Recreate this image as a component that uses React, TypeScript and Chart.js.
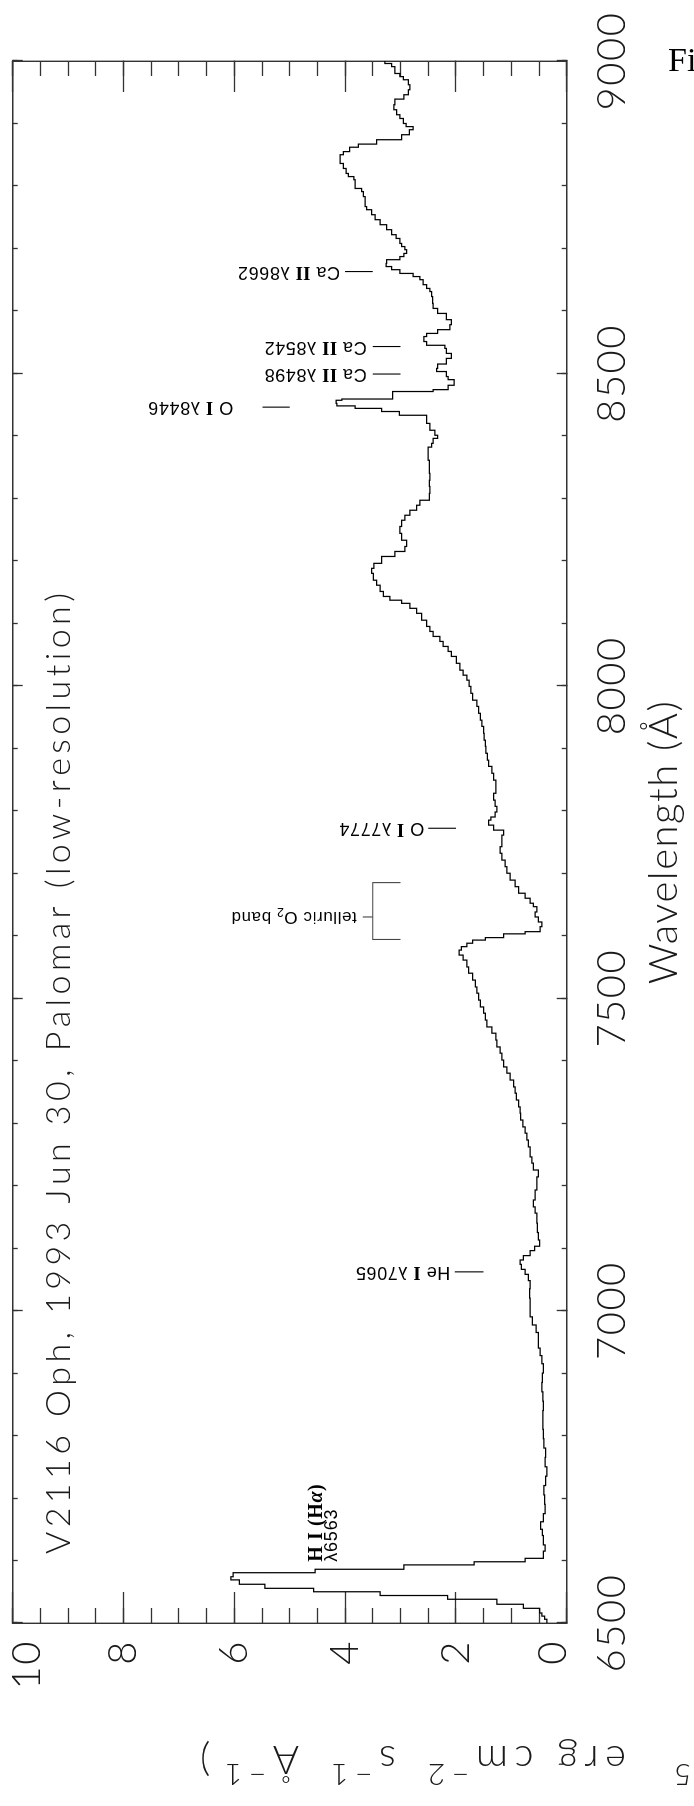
import React, { useEffect, useRef } from "react";
import { Chart, registerables } from "chart.js";

Chart.register(...registerables);

// ---------- spectrum (bin start wavelength in Å, flux in 1e-15 erg cm^-2 s^-1 Å^-1) ----------
const halphaWavelengths = [6500, 6506, 6511, 6516, 6523.5, 6530, 6538, 6544, 6550, 6555.5, 6562, 6569, 6574, 6580.5, 6586, 6593, 6598, 6603.5];
const halphaFluxes = [0.36, 0.40, 0.45, 0.49, 0.78, 1.26, 2.15, 3.37, 4.57, 5.45, 5.91, 6.06, 6.02, 4.54, 2.94, 1.67, 0.75, 0.42];

const redContWavelengths = [6615, 6625, 6640, 6650, 6662, 6675, 6690, 6705, 6720, 6735, 6750, 6765, 6780, 6795, 6810, 6825, 6840, 6855, 6870, 6885, 6900, 6915, 6928, 6940, 6953, 6965, 6977, 6990, 7005, 7020, 7035, 7048, 7058, 7066, 7074, 7081, 7088, 7096, 7103];
const redContFluxes = [0.39, 0.42, 0.44, 0.47, 0.42, 0.39, 0.40, 0.41, 0.38, 0.36, 0.39, 0.38, 0.41, 0.42, 0.43, 0.43, 0.42, 0.43, 0.45, 0.44, 0.42, 0.45, 0.48, 0.51, 0.51, 0.55, 0.62, 0.66, 0.66, 0.67, 0.66, 0.69, 0.75, 0.82, 0.84, 0.78, 0.66, 0.58, 0.49];

const oxygenBandWavelengths = [7113, 7125, 7140, 7156, 7166, 7177, 7193, 7214, 7225, 7236, 7246, 7262, 7273, 7284, 7294, 7305, 7316, 7326, 7337, 7348, 7358, 7369, 7380, 7390, 7401, 7412, 7422, 7433, 7444, 7454, 7465, 7476, 7486, 7497, 7508, 7518, 7529, 7540, 7550, 7561, 7569, 7577, 7582.5, 7588, 7593, 7597, 7603, 7606.5, 7614.5, 7622, 7630, 7638, 7646.5, 7652, 7660, 7668, 7678.5, 7689, 7700, 7710.5, 7721, 7732, 7742.5];
const oxygenBandFluxes = [0.51, 0.53, 0.54, 0.57, 0.60, 0.57, 0.54, 0.51, 0.60, 0.63, 0.66, 0.69, 0.72, 0.75, 0.79, 0.83, 0.84, 0.87, 0.91, 0.93, 0.96, 1.02, 1.08, 1.14, 1.17, 1.20, 1.26, 1.28, 1.35, 1.44, 1.47, 1.50, 1.56, 1.59, 1.62, 1.65, 1.70, 1.77, 1.80, 1.87, 1.94, 1.90, 1.80, 1.70, 1.47, 1.14, 0.75, 0.48, 0.45, 0.51, 0.57, 0.54, 0.60, 0.66, 0.75, 0.87, 0.93, 1.02, 1.08, 1.11, 1.17, 1.20, 1.17];

const nearIrWavelengths = [7753, 7761, 7769, 7777, 7785, 7790, 7798, 7807, 7817, 7828, 7839, 7849, 7860, 7871, 7881, 7892, 7903, 7913, 7924, 7935, 7945, 7956, 7967, 7977, 7988, 7999, 8009, 8017, 8025, 8036, 8047, 8055, 8063, 8071, 8079, 8087, 8095, 8105, 8116, 8124, 8132, 8137, 8143, 8151, 8161, 8169, 8180, 8188, 8196, 8207, 8215, 8223, 8233, 8244, 8255, 8265, 8273, 8281, 8289, 8297, 8308, 8319, 8329, 8340, 8351, 8361, 8372, 8382];
const nearIrFluxes = [1.17, 1.14, 1.32, 1.41, 1.37, 1.29, 1.26, 1.29, 1.32, 1.28, 1.28, 1.32, 1.35, 1.41, 1.43, 1.46, 1.47, 1.49, 1.50, 1.53, 1.56, 1.59, 1.62, 1.70, 1.73, 1.76, 1.80, 1.87, 1.93, 1.99, 2.08, 2.14, 2.23, 2.29, 2.41, 2.47, 2.53, 2.62, 2.71, 2.83, 2.98, 3.19, 3.31, 3.37, 3.43, 3.49, 3.52, 3.48, 3.34, 3.10, 2.92, 2.89, 2.98, 3.01, 2.98, 2.92, 2.83, 2.71, 2.65, 2.48, 2.47, 2.48, 2.47, 2.48, 2.48, 2.50, 2.50, 2.44];

const calciumWavelengths = [8388, 8396, 8401, 8409, 8420, 8433, 8439, 8444, 8448, 8452, 8457, 8459, 8471, 8474, 8481, 8490, 8495, 8503, 8508, 8515, 8524, 8532, 8540, 8545, 8551, 8559, 8564, 8570, 8578, 8586, 8596, 8604, 8612, 8623, 8631, 8636, 8642, 8650, 8655, 8660, 8666, 8671, 8676, 8682, 8687, 8692, 8698, 8703, 8708, 8716, 8722, 8730, 8738, 8746, 8754, 8762, 8767, 8783, 8791, 8796, 8810, 8815, 8820, 8828, 8836, 8844, 8850, 8855, 8862, 8867, 8874, 8882, 8890, 8895, 8900, 8908, 8914, 8922, 8930, 8939, 8946, 8954, 8962, 8970, 8975, 8980, 8991, 8996, 9000];
const calciumFluxes = [2.41, 2.33, 2.38, 2.47, 2.53, 3.02, 3.34, 3.82, 4.15, 4.16, 4.06, 3.14, 2.41, 2.14, 2.03, 2.14, 2.17, 2.35, 2.33, 2.17, 2.08, 2.17, 2.20, 2.53, 2.58, 2.53, 2.33, 2.11, 2.08, 2.17, 2.33, 2.41, 2.42, 2.44, 2.47, 2.53, 2.59, 2.65, 2.77, 3.01, 3.16, 3.26, 3.25, 3.01, 2.94, 2.89, 2.92, 2.98, 3.01, 3.08, 3.16, 3.25, 3.37, 3.46, 3.52, 3.61, 3.64, 3.67, 3.70, 3.82, 3.84, 3.94, 3.98, 4.03, 4.09, 4.09, 4.03, 3.92, 3.76, 3.43, 2.98, 2.84, 2.77, 2.90, 2.95, 3.01, 3.07, 3.12, 3.10, 2.94, 2.86, 2.83, 2.86, 2.95, 3.01, 3.10, 3.16, 3.28, 3.28];

// ---------- axes ----------
const wavelengthRange = [6500, 9000];
const fluxRange = [0, 10];
const wavelengthMajorTicks = [6500, 7000, 7500, 8000, 8500, 9000];
const wavelengthMinorStep = 100;
const fluxMajorTicks = [0, 2, 4, 6, 8, 10];
const fluxMinorStep = 0.5;

// ---------- texts ----------
const plotTitle = "V2116 Oph, 1993 Jun 30, Palomar (low-resolution)";
const xAxisTitle = "Wavelength (Å)";
const yAxisTitleParts = ["Flux (10", "−15", " erg cm", "−2", " s", "−1", " Å", "−1", ")"];
const yAxisTitleSuperscript = [false, true, false, true, false, true, false, true, false];

// ---------- line identifications ----------
const lineLabels = ["He I λ7065", "O I λ7774", "O I λ8446", "Ca II λ8498", "Ca II λ8542", "Ca II λ8662"];
const lineWavelengths = [7062, 7772, 8446, 8499, 8543, 8663];
const lineMarkFrom = [1.5, 2.0, 5.0, 3.0, 3.0, 3.5];
const lineMarkTo = [2.02, 2.5, 5.49, 3.5, 3.5, 4.0];
const lineLabelStart = [2.1, 2.57, 6.02, 3.61, 3.61, 4.09];

const halphaLabel = ["H I (H", "α", ")"];
const halphaWavelengthLabel = "λ6563";
const halphaAnchor = [6598, 4.42];

const telluricLabel = ["telluric O", "2", " band"];
const telluricRange = [7594, 7685];
const telluricLevels = [3.0, 3.5, 3.68];
const telluricTick = 7630;

// ---------- styling ----------
const W = 1806;
const H = 694;
const LIGHT = "Lato, 'Open Sans', 'DejaVu Sans', sans-serif";
const SANS = "'Liberation Sans', Arial, sans-serif";
const SERIF = "'Liberation Serif', 'Times New Roman', serif";
const FRAME = "#333";
const TEXT = "#1a1a1a";

type Seg = { t: string; font: string; dy?: number; gap?: number };

function runWidth(ctx: CanvasRenderingContext2D, segs: Seg[], ls: number) {
  let w = 0;
  for (const s of segs) {
    ctx.font = s.font;
    for (const ch of Array.from(s.t)) w += ctx.measureText(ch).width + ls;
    w += s.gap || 0;
  }
  return w;
}
function charCount(segs: Seg[]) {
  return segs.reduce((n, s) => n + Array.from(s.t).length, 0);
}
function drawRun(ctx: CanvasRenderingContext2D, segs: Seg[], x0: number, y0: number, ls: number) {
  let x = x0;
  for (const s of segs) {
    ctx.font = s.font;
    for (const ch of Array.from(s.t)) {
      ctx.fillText(ch, x, y0 + (s.dy || 0));
      x += ctx.measureText(ch).width + ls;
    }
    x += s.gap || 0;
  }
  return x;
}
function labelSegs(text: string, size: number): Seg[] {
  return text
    .split(/(\bI+\b)/)
    .filter((p) => p.length > 0)
    .map((p) => (/^I+$/.test(p) ? { t: p, font: `bold ${size}px ${SERIF}` } : { t: p, font: `${size}px ${SANS}` }));
}

function zeroPad(s: any) {
  s.paddingLeft = 0;
  s.paddingRight = 0;
  s.paddingTop = 0;
  s.paddingBottom = 0;
}

function rangeTicks(min: number, max: number, step: number) {
  const out: { value: number }[] = [];
  const n = Math.round((max - min) / step);
  for (let i = 0; i <= n; i++) out.push({ value: +(min + i * step).toFixed(6) });
  return out;
}

const textPlugin = {
  id: "spectrumText",
  beforeDraw(chart: any) {
    chart.ctx.letterSpacing = "1.5px";
  },
  beforeDatasetsDraw(chart: any) {
    chart.ctx.letterSpacing = "0px";
  },
  afterDraw(chart: any) {
    const ctx: CanvasRenderingContext2D = chart.ctx;
    const xs = chart.scales.x;
    const ys = chart.scales.y;
    const area = chart.chartArea;
    ctx.save();
    (ctx as any).letterSpacing = "0px";
    ctx.fillStyle = TEXT;
    ctx.textAlign = "left";

    // plot title inside the frame
    ctx.textBaseline = "alphabetic";
    const tSegs: Seg[] = [{ t: plotTitle, font: `300 34px ${LIGHT}` }];
    const tNat = runWidth(ctx, tSegs, 0);
    const tLs = (961 - tNat) / (charCount(tSegs) - 1);
    drawRun(ctx, tSegs, area.left + 69, area.top + 57, tLs);

    // y-axis title (rotated, partly outside the page)
    const ySegs: Seg[] = yAxisTitleParts.map((t, i) =>
      yAxisTitleSuperscript[i]
        ? { t, font: `300 30px ${LIGHT}`, dy: -18, gap: i === 1 ? 24 : 8 }
        : { t, font: `300 40px ${LIGHT}` }
    );
    const tail = ySegs.slice(2);
    const yLs = (450 - runWidth(ctx, tail, 0)) / charCount(tail);
    const yW = runWidth(ctx, ySegs, yLs) - yLs;
    ctx.save();
    ctx.translate(60, 200);
    ctx.rotate(-Math.PI / 2);
    drawRun(ctx, ySegs, -yW, 0, yLs);
    ctx.restore();

    // line identification labels
    ctx.fillStyle = "#000";
    ctx.textBaseline = "middle";
    lineLabels.forEach((label, i) => {
      const px = xs.getPixelForValue(lineWavelengths[i]);
      const py = ys.getPixelForValue(lineLabelStart[i]);
      ctx.save();
      ctx.translate(px, py);
      ctx.rotate(-Math.PI / 2);
      drawRun(ctx, labelSegs(label, 18), 0, 0, 0.6);
      ctx.restore();
    });

    // telluric band label
    {
      const px = xs.getPixelForValue(telluricTick);
      const py = ys.getPixelForValue(telluricLevels[2]);
      ctx.save();
      ctx.translate(px, py - 6);
      ctx.rotate(-Math.PI / 2);
      drawRun(
        ctx,
        [
          { t: telluricLabel[0], font: `17px ${SANS}` },
          { t: telluricLabel[1], font: `12px ${SANS}`, dy: 6 },
          { t: telluricLabel[2], font: `17px ${SANS}` },
        ],
        0,
        0,
        0.6
      );
      ctx.restore();
    }

    // H alpha label
    {
      const hx = xs.getPixelForValue(halphaAnchor[0]);
      const hy = ys.getPixelForValue(halphaAnchor[1]);
      ctx.textBaseline = "alphabetic";
      drawRun(
        ctx,
        [
          { t: halphaLabel[0], font: `bold 20px ${SERIF}` },
          { t: halphaLabel[1], font: `italic bold 20px ${SERIF}` },
          { t: halphaLabel[2], font: `bold 20px ${SERIF}` },
        ],
        hx,
        hy,
        0.6
      );
      drawRun(ctx, [{ t: halphaWavelengthLabel, font: `18px ${SANS}` }], hx, hy + 15, 0.8);
    }
    ctx.restore();
  },
};

function axisBase(position: string, min: number, max: number, weight: number, tickLength: number, majorTicks: { value: number }[], size: number, showBorder: boolean) {
  return {
    type: "linear",
    position,
    min,
    max,
    weight,
    afterBuildTicks: (s: any) => {
      s.ticks = majorTicks.map((t) => ({ value: t.value }));
    },
    grid: {
      display: true,
      drawOnChartArea: false,
      drawTicks: true,
      tickLength,
      tickColor: FRAME,
      tickWidth: 1.3,
      color: FRAME,
    },
    border: { display: showBorder, color: FRAME, width: 1.4 },
    ticks: { display: false },
    afterFit: (s: any) => {
      if (position === "top" || position === "bottom") s.height = size;
      else s.width = size;
      zeroPad(s);
    },
  };
}

export default function App() {
  const ref = useRef<HTMLCanvasElement>(null);

  useEffect(() => {
    const canvas = ref.current;
    if (!canvas) return;

    const allWavelengths = [...halphaWavelengths, ...redContWavelengths, ...oxygenBandWavelengths, ...nearIrWavelengths, ...calciumWavelengths];
    const allFluxes = [...halphaFluxes, ...redContFluxes, ...oxygenBandFluxes, ...nearIrFluxes, ...calciumFluxes];
    const spectrum = allWavelengths.map((w, i) => ({ x: w, y: allFluxes[i] }));

    const markerSets = lineWavelengths.map((w, i) => ({
      data: [
        { x: w, y: lineMarkFrom[i] },
        { x: w, y: lineMarkTo[i] },
      ],
      borderColor: "#000",
      borderWidth: 1.1,
      pointRadius: 0,
      tension: 0,
      fill: false,
      xAxisID: "x",
      yAxisID: "y",
    }));

    const bracket = {
      data: [
        { x: telluricRange[0], y: telluricLevels[0] },
        { x: telluricRange[0], y: telluricLevels[1] },
        { x: telluricRange[1], y: telluricLevels[1] },
        { x: telluricRange[1], y: telluricLevels[0] },
      ],
      borderColor: "#444",
      borderWidth: 1.1,
      pointRadius: 0,
      tension: 0,
      fill: false,
      xAxisID: "x",
      yAxisID: "y",
    };
    const bracketTick = {
      data: [
        { x: telluricTick, y: telluricLevels[1] },
        { x: telluricTick, y: telluricLevels[2] },
      ],
      borderColor: "#444",
      borderWidth: 1.1,
      pointRadius: 0,
      tension: 0,
      fill: false,
      xAxisID: "x",
      yAxisID: "y",
    };

    const wMajor = wavelengthMajorTicks.map((v) => ({ value: v }));
    const wMinor = rangeTicks(wavelengthRange[0], wavelengthRange[1], wavelengthMinorStep);
    const fMajor = fluxMajorTicks.map((v) => ({ value: v }));
    const fMinor = rangeTicks(fluxRange[0], fluxRange[1], fluxMinorStep);

    const top = 12.7;
    const bottom = 566.7;
    const left = 183;
    const right = 1745;

    const xMain: any = axisBase("bottom", wavelengthRange[0], wavelengthRange[1], 1, -10, wMajor, H - bottom, true);
    xMain.ticks = {
      display: true,
      autoSkip: false,
      maxRotation: 0,
      minRotation: 0,
      padding: 31,
      color: TEXT,
      font: { family: LIGHT, size: 40, weight: "300" },
      callback: (v: any) => String(v),
    };
    xMain.title = {
      display: true,
      text: xAxisTitle,
      color: TEXT,
      font: { family: LIGHT, size: 40, weight: "300" },
      padding: { top: 0, bottom: 6 },
    };

    const yMain: any = axisBase("left", fluxRange[0], fluxRange[1], 1, -31, fMajor, left, true);
    yMain.ticks = {
      display: true,
      autoSkip: false,
      padding: 48,
      color: TEXT,
      font: { family: LIGHT, size: 40, weight: "300", lineHeight: 0.7 },
      callback: (v: any) => (v === 10 ? ["", "10"] : v === 0 ? ["0", ""] : String(v)),
    };

    const chart = new Chart(canvas, {
      type: "line",
      data: {
        datasets: [
          {
            data: spectrum,
            borderColor: "#000",
            borderWidth: 1.25,
            pointRadius: 0,
            stepped: true,
            tension: 0,
            fill: false,
            xAxisID: "x",
            yAxisID: "y",
          } as any,
          ...markerSets,
          bracket,
          bracketTick,
        ],
      },
      options: {
        animation: false,
        responsive: false,
        maintainAspectRatio: false,
        devicePixelRatio: 1,
        events: [],
        layout: { padding: 0 },
        plugins: { legend: { display: false }, tooltip: { enabled: false }, title: { display: false } },
        scales: {
          x: xMain,
          xMinor: axisBase("bottom", wavelengthRange[0], wavelengthRange[1], 0, -5, wMinor, 0, false),
          xTop: axisBase("top", wavelengthRange[0], wavelengthRange[1], 1, -10, wMajor, top, true),
          xTopMinor: axisBase("top", wavelengthRange[0], wavelengthRange[1], 0, -5, wMinor, 0, false),
          y: yMain,
          yMinor: axisBase("left", fluxRange[0], fluxRange[1], 0, -15, fMinor, 0, false),
          yRight: axisBase("right", fluxRange[0], fluxRange[1], 1, -31, fMajor, W - right, true),
          yRightMinor: axisBase("right", fluxRange[0], fluxRange[1], 0, -15, fMinor, 0, false),
        } as any,
      },
      plugins: [textPlugin as any],
    } as any);

    return () => chart.destroy();
  }, []);

  return (
    <div style={{ position: "absolute", left: 0, top: 0, width: 694, height: 1806, overflow: "hidden", background: "#fff" }}>
      <div
        style={{
          position: "absolute",
          left: 0,
          top: 0,
          width: W,
          height: H,
          transformOrigin: "0 0",
          transform: `rotate(-90deg) translateX(-${W}px)`,
        }}
      >
        <canvas ref={ref} width={W} height={H} style={{ display: "block", width: W, height: H, background: "#fff" }} />
      </div>
      <div
        style={{
          position: "absolute",
          left: 668,
          top: 43,
          fontFamily: SERIF,
          fontSize: 34,
          lineHeight: "34px",
          color: "#000",
          whiteSpace: "nowrap",
        }}
      >
        Fi
      </div>
    </div>
  );
}
